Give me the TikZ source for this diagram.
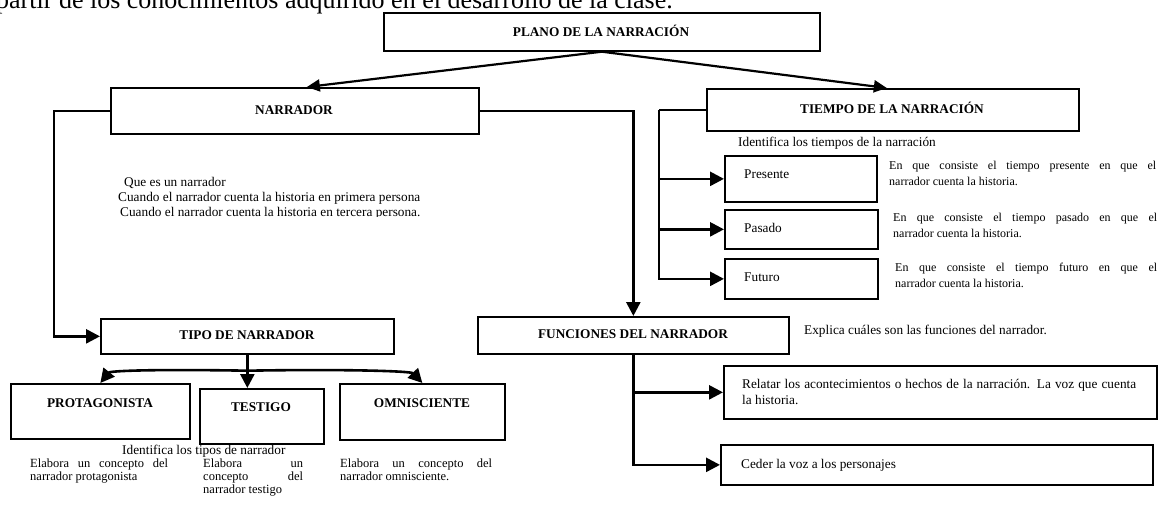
\documentclass[tikz,border=0pt]{standalone}
\usepackage{fontspec}
\setmainfont{Liberation Serif}
\usetikzlibrary{arrows.meta,calc}
\begin{document}
\begin{tikzpicture}[x=1pt,y=-1pt,
  box/.style={draw, line width=1.7pt, inner sep=0pt, anchor=north west},
  conn/.style={line width=2.6pt},
  arr/.style={conn, -{Triangle[length=14pt,width=14pt]}},
  arrthin/.style={line width=2.2pt, -{Triangle[length=13pt,width=12pt]}},
  lbl/.style={font=\fontsize{13.3}{15}\selectfont\bfseries, inner sep=0pt},
  txt/.style={font=\fontsize{13.3}{15}\selectfont, inner sep=0pt, anchor=base west},
  desc/.style={font=\fontsize{12}{15.5}\selectfont, inner sep=0pt, anchor=base west, align=left},
  elab/.style={font=\fontsize{12.5}{13}\selectfont, inner sep=0pt, anchor=base west, align=left},
]
\useasboundingbox (0,0) rectangle (1161,519);

% top cut-off line
\node[anchor=base west, font=\fontsize{26}{30}\selectfont, inner sep=0pt] (toptext) at (-4,9)
  {partir de los conocimientos adquirido en el desarrollo de la clase.};

% boxes
\node[box, minimum width=436pt, minimum height=38pt] (plano) at (383,12) {};
\node[box, minimum width=368pt, minimum height=46pt] (narr) at (110,87) {};
\node[box, minimum width=372pt, minimum height=42pt] (tiempo) at (706,88) {};
\node[box, minimum width=152pt, minimum height=46pt] (pres) at (724,155) {};
\node[box, minimum width=153pt, minimum height=39pt] (pas) at (724,209) {};
\node[box, minimum width=153pt, minimum height=40pt] (fut) at (724,258) {};
\node[box, minimum width=293pt, minimum height=35pt] (tipo) at (100,318) {};
\node[box, minimum width=311pt, minimum height=37pt] (func) at (477,316) {};
\node[box, minimum width=179pt, minimum height=55pt] (prot) at (10,383) {};
\node[box, minimum width=124pt, minimum height=55pt] (test) at (199,388) {};
\node[box, minimum width=165pt, minimum height=56pt] (omni) at (339,383) {};
\node[box, minimum width=433pt, minimum height=53pt] (rel) at (723,365) {};
\node[box, minimum width=432pt, minimum height=40pt] (ced) at (720,444) {};

% box labels
\node[lbl] (planoT) at (601,31) {PLANO DE LA NARRACIÓN};
\node[lbl] (narrT) at (294,110) {NARRADOR};
\node[lbl] (tiempoT) at (892,108) {TIEMPO DE LA NARRACIÓN};
\node[lbl] (tipoT) at (247,335) {TIPO DE NARRADOR};
\node[lbl] (funcT) at (633,334) {FUNCIONES DEL NARRADOR};
\node[lbl] (protT) at (100,403) {PROTAGONISTA};
\node[lbl] (testT) at (261,407) {TESTIGO};
\node[lbl] (omniT) at (422,403) {OMNISCIENTE};
\node[txt] (presT) at (744,178) {Presente};
\node[txt] (pasT) at (744,232) {Pasado};
\node[txt] (futT) at (744,281) {Futuro};

% free texts
\node[txt] (q1) at (124,186) {Que es un narrador};
\node[txt] (q2) at (118,201) {Cuando el narrador cuenta la historia en primera persona};
\begin{scope}
  \clip (100,150) rectangle (500,216.5);
  \node[txt] (q3) at (120,216) {Cuando el narrador cuenta la historia en tercera persona.};
\end{scope}
\node[txt] (idT) at (738,146) {Identifica los tiempos de la narración};
\node[desc] (dPres) at (889,185) {\makebox[267pt][s]{En que consiste el tiempo presente en que el}\\narrador cuenta la historia.};
\node[desc] (dPas) at (893,237) {\makebox[264pt][s]{En que consiste el tiempo pasado en que el}\\narrador cuenta la historia.};
\node[desc] (dFut) at (895,287) {\makebox[262pt][s]{En que consiste el tiempo futuro en que el}\\narrador cuenta la historia.};
\node[txt] (expl) at (804,334) {Explica cuáles son las funciones del narrador.};
\node[txt, align=left, font=\fontsize{13.3}{16}\selectfont] (relT) at (742,404)
  {\makebox[394pt][s]{Relatar los acontecimientos o hechos de la narración. La voz que cuenta}\\la historia.};
\node[txt] (cedT) at (741,468) {Ceder la voz a los personajes};
\node[txt] (idTipos) at (122,454) {Identifica los tipos de narrador};
\node[elab] (eProt) at (30,480) {\makebox[138pt][s]{Elabora un concepto del}\\narrador protagonista};
\node[elab] (eTest) at (203,493) {\makebox[100pt][s]{Elabora un}\\\makebox[100pt][s]{concepto del}\\narrador testigo};
\node[elab] (eOmni) at (340,480) {\makebox[152pt][s]{Elabora un concepto del}\\narrador omnisciente.};

% connectors
\draw[arrthin] (plano.south) -- ([xshift=12pt]narr.north);
\draw[arrthin] (plano.south) -- ([xshift=-6pt]tiempo.north);
\draw[arr] (narr.west) -- ++(-56,0) |- (tipo.west);
\draw[arr] (narr.east) -| (func.north);

\coordinate (tstem) at ([xshift=-47pt]tiempo.west);
\draw[conn] (tiempo.west) -- (tstem);
\draw[arr] (tstem) |- (pres.west);
\draw[arr] (tstem) |- (pas.west);
\draw[arr] (tstem) |- (fut.west);

\draw[arr] (func.south) |- (rel.west);
\draw[arr] (func.south) |- (ced.west);

\coordinate (tj) at ([yshift=-16pt]tipo.south);
\draw[arr] (tipo.south) -- (tipo.south |- test.north);
\draw[arr] (tj) .. controls (150,369) and (110,371) .. (prot.north);
\draw[arr] (tj) .. controls (343,369) and (411,371) .. (omni.north);
\end{tikzpicture}
\end{document}
